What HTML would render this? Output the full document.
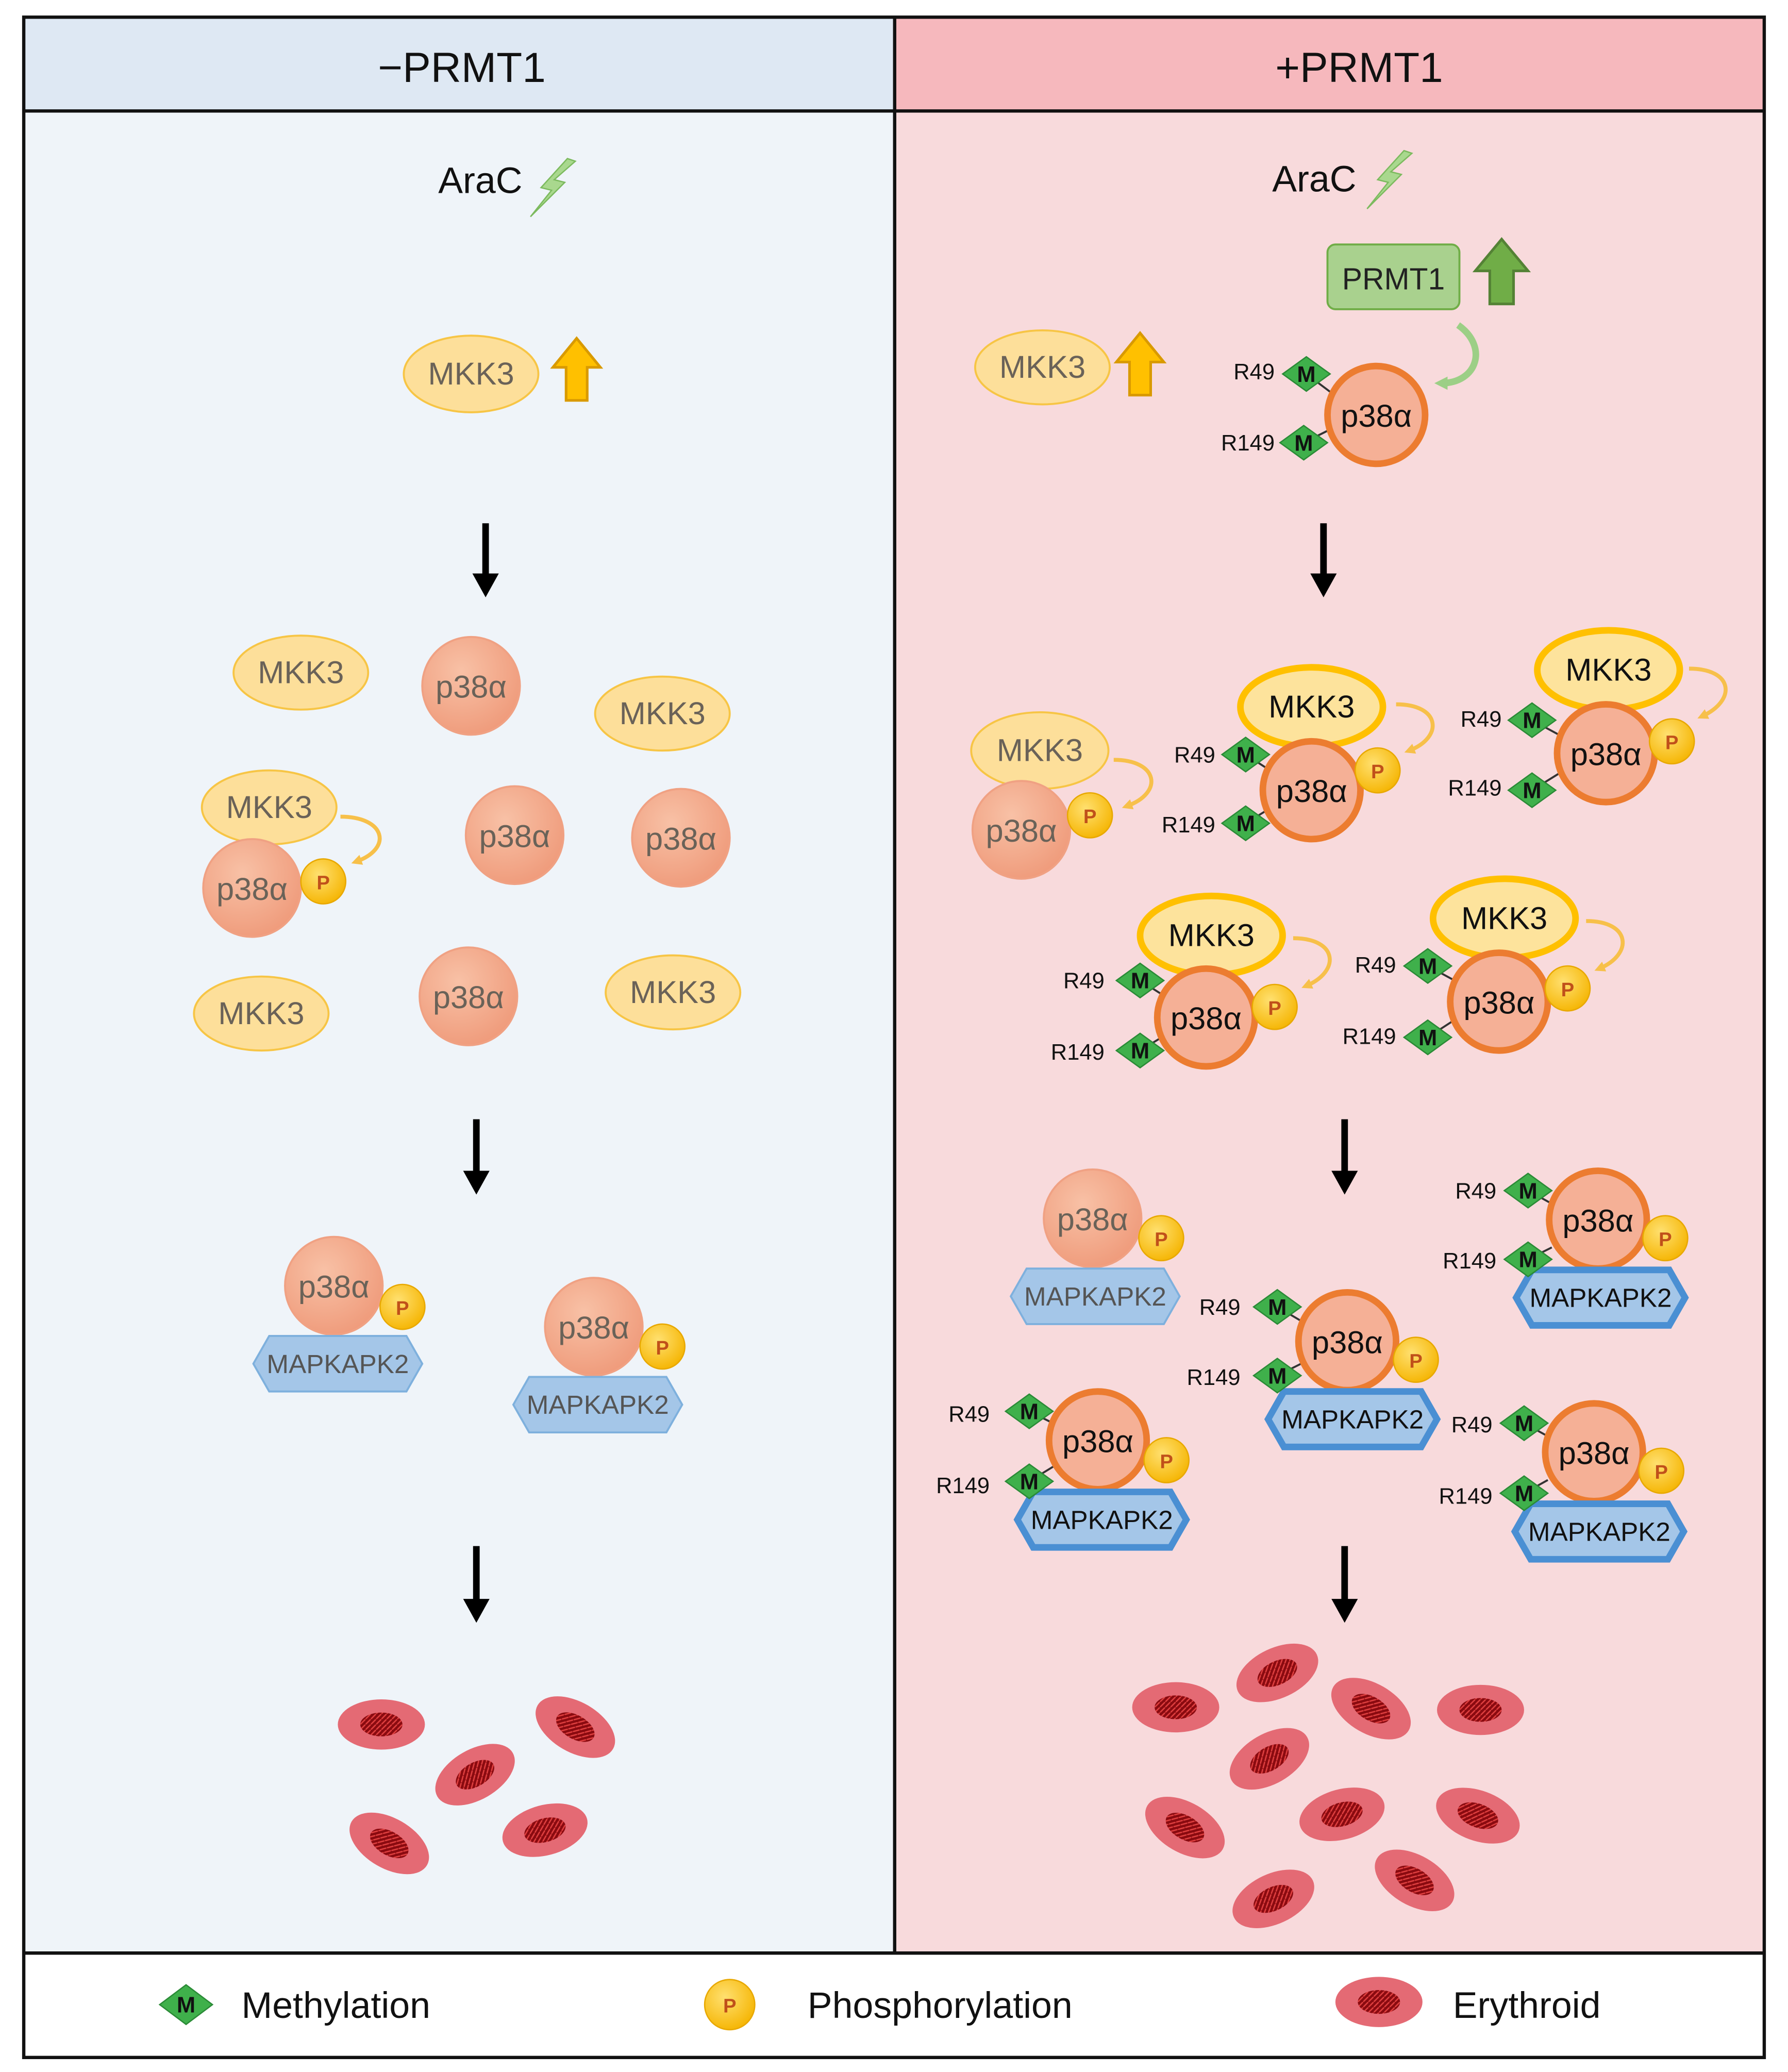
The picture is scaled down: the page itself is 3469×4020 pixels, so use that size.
<!DOCTYPE html>
<html><head><meta charset="utf-8"><style>
html,body{margin:0;padding:0;background:#fff}
svg{display:block}
text{font-family:"Liberation Sans",sans-serif;text-anchor:middle}
.fmkk{fill:#fddf9a;stroke:#f7c545;stroke-width:1.5}
.bmkk{fill:#fde39c;stroke:#ffc000;stroke-width:5}
.fp{fill:url(#gf);stroke:#f0a183;stroke-width:1.5}
.bp{fill:#f5b096;stroke:#ec7c30;stroke-width:5}
.pc{fill:url(#gp);stroke:#e8a800;stroke-width:1}
.fh{fill:#a4c6e8;stroke:#7eb0dd;stroke-width:1.5}
.bh{fill:#a4c6e8;stroke:#4a8fd3;stroke-width:5}
.tf{font-size:24px;fill:#6a6258}
.tb{font-size:24px;fill:#111}
.hf{font-size:20px;fill:#555}
.hb{font-size:20px;fill:#111}
.m{font-size:17px;font-weight:bold;fill:#111}
.p{font-size:15px;font-weight:bold;fill:#c0501a}
.r{font-size:17px;fill:#111;text-anchor:end}
.curl{fill:none;stroke:#f7c04a;stroke-width:3}
.ln{stroke:#333;stroke-width:1.5}
</style></head><body>
<svg width="3469" height="4020" viewBox="0 0 1355 1568" preserveAspectRatio="none" xmlns="http://www.w3.org/2000/svg">
<defs>
<radialGradient id="gf" cx="0.4" cy="0.35" r="0.7"><stop offset="0" stop-color="#f8c1a6"/><stop offset="1" stop-color="#ef9a7a"/></radialGradient>
<radialGradient id="gp" cx="0.4" cy="0.35" r="0.7"><stop offset="0" stop-color="#ffe070"/><stop offset="1" stop-color="#f5b400"/></radialGradient>
<pattern id="hatch" width="4" height="4" patternUnits="userSpaceOnUse"><rect width="4" height="4" fill="#8a0a10"/><path d="M0 4L4 0" stroke="#e04040" stroke-width="1"/></pattern>
<marker id="ca" markerWidth="8" markerHeight="8" refX="4" refY="4" orient="auto" markerUnits="userSpaceOnUse"><path d="M0 0L8 4L0 8Z" fill="#f7c04a"/></marker>
<marker id="ga" markerWidth="10" markerHeight="10" refX="5" refY="5" orient="auto" markerUnits="userSpaceOnUse"><path d="M0 0L10 5L0 10Z" fill="#9ccf86"/></marker>
</defs>
<!-- backgrounds -->
<rect x="18" y="13" width="660" height="71" fill="#dee8f3"/>
<rect x="678" y="13" width="659" height="71" fill="#f6b8bd"/>
<rect x="18" y="84" width="660" height="1394" fill="#eff4f9"/>
<rect x="678" y="84" width="659" height="1394" fill="#f8dadc"/>
<rect x="18" y="1478" width="1319" height="79" fill="#fff"/>
<g stroke="#111" stroke-width="2.5" fill="none">
<rect x="18" y="13" width="1319" height="1544"/>
<line x1="18" y1="84" x2="1337" y2="84"/>
<line x1="18" y1="1478" x2="1337" y2="1478"/>
<line x1="678" y1="13" x2="678" y2="1478"/>
</g>
<text x="350" y="62" style="font-size:32px;fill:#111">−PRMT1</text>
<text x="1030" y="62" style="font-size:32px;fill:#111">+PRMT1</text>

<!-- ===== LEFT ===== -->
<text x="364" y="146" style="font-size:28px;fill:#111">AraC</text>
<path d="M430 120 L410 142 L418 144 L402 164 L428 138 L420 136 L436 122Z" fill="#a9d88e" stroke="#7cba5e"/>
<g transform="translate(357,283)"><ellipse rx="51" ry="29" class="fmkk"/><text y="8" class="tf">MKK3</text></g>
<path d="M437 256 L455 278 L445 278 L445 303 L429 303 L429 278 L419 278Z" fill="#ffc000" stroke="#d99a00" stroke-width="2"/>
<g stroke="#000" stroke-width="5"><line x1="368" y1="396" x2="368" y2="436"/><line x1="361" y1="847" x2="361" y2="888"/><line x1="361" y1="1170" x2="361" y2="1212"/></g>
<g fill="#000"><path d="M358 434L378 434L368 452Z"/><path d="M351 886L371 886L361 904Z"/><path d="M351 1210L371 1210L361 1228Z"/></g>
<g transform="translate(228,509)"><ellipse rx="51" ry="28" class="fmkk"/><text y="8" class="tf">MKK3</text></g>
<g transform="translate(502,540)"><ellipse rx="51" ry="28" class="fmkk"/><text y="8" class="tf">MKK3</text></g>
<g transform="translate(204,611)"><ellipse rx="51" ry="28" class="fmkk"/><text y="8" class="tf">MKK3</text></g>
<g transform="translate(198,767)"><ellipse rx="51" ry="28" class="fmkk"/><text y="8" class="tf">MKK3</text></g>
<g transform="translate(510,751)"><ellipse rx="51" ry="28" class="fmkk"/><text y="8" class="tf">MKK3</text></g>
<g transform="translate(357,519)"><circle r="37" class="fp"/><text y="9" class="tf">p38α</text></g>
<g transform="translate(390,632)"><circle r="37" class="fp"/><text y="9" class="tf">p38α</text></g>
<g transform="translate(516,634)"><circle r="37" class="fp"/><text y="9" class="tf">p38α</text></g>
<g transform="translate(191,672)"><circle r="37" class="fp"/><text y="9" class="tf">p38α</text></g>
<g transform="translate(355,754)"><circle r="37" class="fp"/><text y="9" class="tf">p38α</text></g>
<g transform="translate(245,667)"><circle r="17" class="pc"/><text y="6" class="p">P</text></g>
<path d="M258 618 C292 618 298 642 270 652" class="curl" marker-end="url(#ca)"/>
<g transform="translate(253,973)"><circle r="37" class="fp"/><text y="9" class="tf">p38α</text></g>
<g transform="translate(256,1032)"><polygon points="-64,0 -52,-21 52,-21 64,0 52,21 -52,21" class="fh"/><text y="7" class="hf">MAPKAPK2</text></g>
<g transform="translate(305,989)"><circle r="17" class="pc"/><text y="6" class="p">P</text></g>
<g transform="translate(450,1004)"><circle r="37" class="fp"/><text y="9" class="tf">p38α</text></g>
<g transform="translate(453,1063)"><polygon points="-64,0 -52,-21 52,-21 64,0 52,21 -52,21" class="fh"/><text y="7" class="hf">MAPKAPK2</text></g>
<g transform="translate(502,1019)"><circle r="17" class="pc"/><text y="6" class="p">P</text></g>
<g transform="translate(289,1305)"><ellipse rx="33" ry="19" fill="#e46a74"/><ellipse rx="16" ry="9" fill="url(#hatch)"/></g>
<g transform="translate(436,1307) rotate(30)"><ellipse rx="33" ry="19" fill="#e46a74"/><ellipse rx="16" ry="9" fill="url(#hatch)"/></g>
<g transform="translate(360,1343) rotate(-30)"><ellipse rx="33" ry="19" fill="#e46a74"/><ellipse rx="16" ry="9" fill="url(#hatch)"/></g>
<g transform="translate(295,1395) rotate(30)"><ellipse rx="33" ry="19" fill="#e46a74"/><ellipse rx="16" ry="9" fill="url(#hatch)"/></g>
<g transform="translate(413,1385) rotate(-15)"><ellipse rx="33" ry="19" fill="#e46a74"/><ellipse rx="16" ry="9" fill="url(#hatch)"/></g>

<!-- ===== RIGHT ===== -->
<text x="996" y="145" style="font-size:28px;fill:#111">AraC</text>
<path d="M1064 114 L1044 136 L1052 138 L1036 158 L1062 132 L1054 130 L1070 116Z" fill="#a9d88e" stroke="#7cba5e"/>
<rect x="1006" y="185" width="100" height="49" rx="6" fill="#a9d18e" stroke="#70ad47" stroke-width="1.5"/>
<text x="1056" y="219" style="font-size:23px;fill:#222">PRMT1</text>
<path d="M1138 181 L1158 205 L1147 205 L1147 230 L1129 230 L1129 205 L1118 205Z" fill="#70ad47" stroke="#548235" stroke-width="2"/>
<path d="M1105 246 C1128 262 1120 290 1092 290" fill="none" stroke="#9ccf86" stroke-width="5" marker-end="url(#ga)"/>
<g transform="translate(790,278)"><ellipse rx="51" ry="28" class="fmkk"/><text y="8" class="tf">MKK3</text></g>
<path d="M864 252 L882 274 L872 274 L872 299 L856 299 L856 274 L846 274Z" fill="#ffc000" stroke="#d99a00" stroke-width="2"/>
<!-- top p38 -->
<line x1="990" y1="283" x2="1010" y2="298" class="ln"/><line x1="988" y1="335" x2="1008" y2="325" class="ln"/>
<g transform="translate(1043,314)"><circle r="37" class="bp"/><text y="9" class="tb">p38α</text></g>
<g transform="translate(990,283)"><path d="M-18 0L0-13L18 0L0 13Z" fill="#3fb04b" stroke="#2a8a36"/><text y="6" class="m">M</text></g>
<text x="966" y="287" class="r">R49</text>
<g transform="translate(988,335)"><path d="M-18 0L0-13L18 0L0 13Z" fill="#3fb04b" stroke="#2a8a36"/><text y="6" class="m">M</text></g>
<text x="966" y="341" class="r">R149</text>
<g stroke="#000" stroke-width="5"><line x1="1003" y1="396" x2="1003" y2="436"/><line x1="1019" y1="847" x2="1019" y2="888"/><line x1="1019" y1="1170" x2="1019" y2="1212"/></g>
<g fill="#000"><path d="M993 434L1013 434L1003 452Z"/><path d="M1009 886L1029 886L1019 904Z"/><path d="M1009 1210L1029 1210L1019 1228Z"/></g>
<!-- faded complex -->
<g transform="translate(788,568)"><ellipse rx="52" ry="29" class="fmkk"/><text y="8" class="tf">MKK3</text></g>
<g transform="translate(774,628)"><circle r="37" class="fp"/><text y="9" class="tf">p38α</text></g>
<g transform="translate(826,617)"><circle r="17" class="pc"/><text y="6" class="p">P</text></g>
<path d="M844 575 C878 575 882 600 854 610" class="curl" marker-end="url(#ca)"/>

<!-- Complex A -->
<g transform="translate(994,535)"><ellipse rx="54" ry="30" class="bmkk"/><text y="8" class="tb">MKK3</text></g>
<line x1="944" y1="571" x2="964" y2="584" class="ln"/><line x1="944" y1="623" x2="962" y2="612" class="ln"/>
<g transform="translate(994,598)"><circle r="37" class="bp"/><text y="9" class="tb">p38α</text></g>
<g transform="translate(1044,583)"><circle r="17" class="pc"/><text y="6" class="p">P</text></g>
<path d="M1058 533 C1092 533 1094 558 1068 568" class="curl" marker-end="url(#ca)"/>
<g transform="translate(944,571)"><path d="M-18 0L0-13L18 0L0 13Z" fill="#3fb04b" stroke="#2a8a36"/><text y="6" class="m">M</text></g>
<text x="921" y="577" class="r">R49</text>
<g transform="translate(944,623)"><path d="M-18 0L0-13L18 0L0 13Z" fill="#3fb04b" stroke="#2a8a36"/><text y="6" class="m">M</text></g>
<text x="921" y="630" class="r">R149</text>
<!-- Complex B -->
<g transform="translate(1219,507)"><ellipse rx="54" ry="30" class="bmkk"/><text y="8" class="tb">MKK3</text></g>
<line x1="1161" y1="545" x2="1185" y2="558" class="ln"/><line x1="1161" y1="598" x2="1182" y2="585" class="ln"/>
<g transform="translate(1217,570)"><circle r="37" class="bp"/><text y="9" class="tb">p38α</text></g>
<g transform="translate(1267,561)"><circle r="17" class="pc"/><text y="6" class="p">P</text></g>
<path d="M1280 506 C1314 506 1316 530 1290 542" class="curl" marker-end="url(#ca)"/>
<g transform="translate(1161,545)"><path d="M-18 0L0-13L18 0L0 13Z" fill="#3fb04b" stroke="#2a8a36"/><text y="6" class="m">M</text></g>
<text x="1138" y="550" class="r">R49</text>
<g transform="translate(1161,598)"><path d="M-18 0L0-13L18 0L0 13Z" fill="#3fb04b" stroke="#2a8a36"/><text y="6" class="m">M</text></g>
<text x="1138" y="602" class="r">R149</text>
<!-- Complex C -->
<g transform="translate(918,708)"><ellipse rx="54" ry="30" class="bmkk"/><text y="8" class="tb">MKK3</text></g>
<line x1="864" y1="742" x2="886" y2="756" class="ln"/><line x1="864" y1="795" x2="882" y2="784" class="ln"/>
<g transform="translate(914,770)"><circle r="37" class="bp"/><text y="9" class="tb">p38α</text></g>
<g transform="translate(966,762)"><circle r="17" class="pc"/><text y="6" class="p">P</text></g>
<path d="M980 710 C1014 710 1016 735 990 746" class="curl" marker-end="url(#ca)"/>
<g transform="translate(864,742)"><path d="M-18 0L0-13L18 0L0 13Z" fill="#3fb04b" stroke="#2a8a36"/><text y="6" class="m">M</text></g>
<text x="837" y="748" class="r">R49</text>
<g transform="translate(864,795)"><path d="M-18 0L0-13L18 0L0 13Z" fill="#3fb04b" stroke="#2a8a36"/><text y="6" class="m">M</text></g>
<text x="837" y="802" class="r">R149</text>
<!-- Complex D -->
<g transform="translate(1140,695)"><ellipse rx="54" ry="30" class="bmkk"/><text y="8" class="tb">MKK3</text></g>
<line x1="1082" y1="731" x2="1106" y2="744" class="ln"/><line x1="1082" y1="785" x2="1102" y2="772" class="ln"/>
<g transform="translate(1136,758)"><circle r="37" class="bp"/><text y="9" class="tb">p38α</text></g>
<g transform="translate(1188,748)"><circle r="17" class="pc"/><text y="6" class="p">P</text></g>
<path d="M1202 697 C1236 697 1238 722 1212 733" class="curl" marker-end="url(#ca)"/>
<g transform="translate(1082,731)"><path d="M-18 0L0-13L18 0L0 13Z" fill="#3fb04b" stroke="#2a8a36"/><text y="6" class="m">M</text></g>
<text x="1058" y="736" class="r">R49</text>
<g transform="translate(1082,785)"><path d="M-18 0L0-13L18 0L0 13Z" fill="#3fb04b" stroke="#2a8a36"/><text y="6" class="m">M</text></g>
<text x="1058" y="790" class="r">R149</text>

<!-- faded MAPKAPK2 -->
<g transform="translate(828,922)"><circle r="37" class="fp"/><text y="9" class="tf">p38α</text></g>
<g transform="translate(830,981)"><polygon points="-64,0 -52,-21 52,-21 64,0 52,21 -52,21" class="fh"/><text y="7" class="hf">MAPKAPK2</text></g>
<g transform="translate(880,937)"><circle r="17" class="pc"/><text y="6" class="p">P</text></g>
<!-- E -->
<line x1="1158" y1="901" x2="1178" y2="912" class="ln"/><line x1="1158" y1="953" x2="1176" y2="944" class="ln"/>
<g transform="translate(1211,923)"><circle r="37" class="bp"/><text y="9" class="tb">p38α</text></g>
<g transform="translate(1213,982)"><polygon points="-64,0 -52,-21 52,-21 64,0 52,21 -52,21" class="bh"/><text y="7" class="hb">MAPKAPK2</text></g>
<g transform="translate(1262,937)"><circle r="17" class="pc"/><text y="6" class="p">P</text></g>
<g transform="translate(1158,901)"><path d="M-18 0L0-13L18 0L0 13Z" fill="#3fb04b" stroke="#2a8a36"/><text y="6" class="m">M</text></g>
<text x="1134" y="907" class="r">R49</text>
<g transform="translate(1158,953)"><path d="M-18 0L0-13L18 0L0 13Z" fill="#3fb04b" stroke="#2a8a36"/><text y="6" class="m">M</text></g>
<text x="1134" y="960" class="r">R149</text>
<!-- F -->
<line x1="968" y1="989" x2="990" y2="1002" class="ln"/><line x1="968" y1="1041" x2="986" y2="1032" class="ln"/>
<g transform="translate(1021,1015)"><circle r="37" class="bp"/><text y="9" class="tb">p38α</text></g>
<g transform="translate(1025,1074)"><polygon points="-64,0 -52,-21 52,-21 64,0 52,21 -52,21" class="bh"/><text y="7" class="hb">MAPKAPK2</text></g>
<g transform="translate(1073,1029)"><circle r="17" class="pc"/><text y="6" class="p">P</text></g>
<g transform="translate(968,989)"><path d="M-18 0L0-13L18 0L0 13Z" fill="#3fb04b" stroke="#2a8a36"/><text y="6" class="m">M</text></g>
<text x="940" y="995" class="r">R49</text>
<g transform="translate(968,1041)"><path d="M-18 0L0-13L18 0L0 13Z" fill="#3fb04b" stroke="#2a8a36"/><text y="6" class="m">M</text></g>
<text x="940" y="1048" class="r">R149</text>
<!-- G -->
<line x1="780" y1="1068" x2="800" y2="1078" class="ln"/><line x1="780" y1="1121" x2="798" y2="1110" class="ln"/>
<g transform="translate(832,1090)"><circle r="37" class="bp"/><text y="9" class="tb">p38α</text></g>
<g transform="translate(835,1150)"><polygon points="-64,0 -52,-21 52,-21 64,0 52,21 -52,21" class="bh"/><text y="7" class="hb">MAPKAPK2</text></g>
<g transform="translate(884,1105)"><circle r="17" class="pc"/><text y="6" class="p">P</text></g>
<g transform="translate(780,1068)"><path d="M-18 0L0-13L18 0L0 13Z" fill="#3fb04b" stroke="#2a8a36"/><text y="6" class="m">M</text></g>
<text x="750" y="1076" class="r">R49</text>
<g transform="translate(780,1121)"><path d="M-18 0L0-13L18 0L0 13Z" fill="#3fb04b" stroke="#2a8a36"/><text y="6" class="m">M</text></g>
<text x="750" y="1130" class="r">R149</text>
<!-- H -->
<line x1="1155" y1="1077" x2="1175" y2="1088" class="ln"/><line x1="1155" y1="1130" x2="1173" y2="1120" class="ln"/>
<g transform="translate(1208,1099)"><circle r="37" class="bp"/><text y="9" class="tb">p38α</text></g>
<g transform="translate(1212,1159)"><polygon points="-64,0 -52,-21 52,-21 64,0 52,21 -52,21" class="bh"/><text y="7" class="hb">MAPKAPK2</text></g>
<g transform="translate(1259,1113)"><circle r="17" class="pc"/><text y="6" class="p">P</text></g>
<g transform="translate(1155,1077)"><path d="M-18 0L0-13L18 0L0 13Z" fill="#3fb04b" stroke="#2a8a36"/><text y="6" class="m">M</text></g>
<text x="1131" y="1084" class="r">R49</text>
<g transform="translate(1155,1130)"><path d="M-18 0L0-13L18 0L0 13Z" fill="#3fb04b" stroke="#2a8a36"/><text y="6" class="m">M</text></g>
<text x="1131" y="1138" class="r">R149</text>

<!-- erythroids right -->
<g transform="translate(891,1292)"><ellipse rx="33" ry="19" fill="#e46a74"/><ellipse rx="16" ry="9" fill="url(#hatch)"/></g>
<g transform="translate(968,1266) rotate(-25)"><ellipse rx="33" ry="19" fill="#e46a74"/><ellipse rx="16" ry="9" fill="url(#hatch)"/></g>
<g transform="translate(1039,1293) rotate(30)"><ellipse rx="33" ry="19" fill="#e46a74"/><ellipse rx="16" ry="9" fill="url(#hatch)"/></g>
<g transform="translate(1122,1294)"><ellipse rx="33" ry="19" fill="#e46a74"/><ellipse rx="16" ry="9" fill="url(#hatch)"/></g>
<g transform="translate(962,1331) rotate(-30)"><ellipse rx="33" ry="19" fill="#e46a74"/><ellipse rx="16" ry="9" fill="url(#hatch)"/></g>
<g transform="translate(898,1383) rotate(30)"><ellipse rx="33" ry="19" fill="#e46a74"/><ellipse rx="16" ry="9" fill="url(#hatch)"/></g>
<g transform="translate(1017,1373) rotate(-15)"><ellipse rx="33" ry="19" fill="#e46a74"/><ellipse rx="16" ry="9" fill="url(#hatch)"/></g>
<g transform="translate(1120,1374) rotate(20)"><ellipse rx="33" ry="19" fill="#e46a74"/><ellipse rx="16" ry="9" fill="url(#hatch)"/></g>
<g transform="translate(965,1437) rotate(-25)"><ellipse rx="33" ry="19" fill="#e46a74"/><ellipse rx="16" ry="9" fill="url(#hatch)"/></g>
<g transform="translate(1072,1423) rotate(30)"><ellipse rx="33" ry="19" fill="#e46a74"/><ellipse rx="16" ry="9" fill="url(#hatch)"/></g>

<!-- legend -->
<g transform="translate(141,1517)"><path d="M-20 0L0-15L20 0L0 15Z" fill="#3fb04b" stroke="#2a8a36"/><text y="6" class="m">M</text></g>
<text x="183" y="1527" style="font-size:28px;fill:#111;text-anchor:start">Methylation</text>
<g transform="translate(553,1517)"><circle r="19" class="pc"/><text y="6" class="p">P</text></g>
<text x="612" y="1527" style="font-size:28px;fill:#111;text-anchor:start">Phosphorylation</text>
<g transform="translate(1045,1515)"><ellipse rx="33" ry="19" fill="#e46a74"/><ellipse rx="16" ry="9" fill="url(#hatch)"/></g>
<text x="1101" y="1527" style="font-size:28px;fill:#111;text-anchor:start">Erythroid</text>
</svg>
</body></html>
